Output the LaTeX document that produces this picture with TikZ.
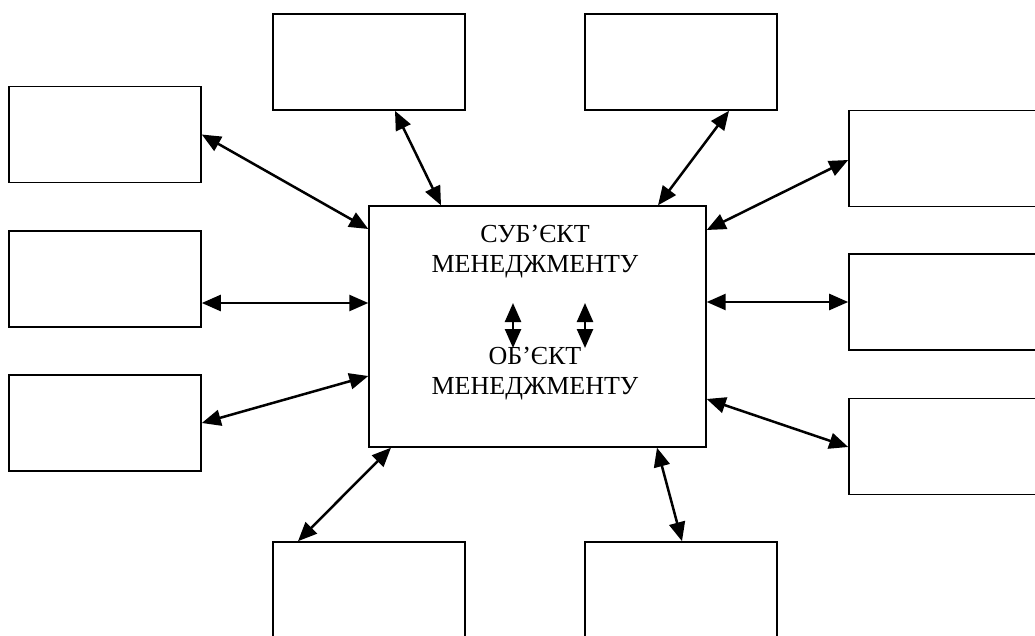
\documentclass[tikz,border=0pt]{standalone}
\usepackage{fontspec}
\setmainfont{Liberation Serif}
\usetikzlibrary{arrows.meta}
\tikzset{
  box/.style={draw, line width=1.6pt, minimum width=192pt, minimum height=96pt, inner sep=0pt, fill=none},
  mainbox/.style={draw, line width=1.4pt, minimum width=337pt, minimum height=241pt, inner sep=0pt},
  link/.style={line width=2.5pt, {Triangle[length=19pt,width=16pt]}-{Triangle[length=19pt,width=16pt]}},
  txt/.style={font=\fontsize{26}{30}\selectfont, inner sep=0pt, anchor=base}
}
\begin{document}
\begin{tikzpicture}[x=1pt,y=-1pt]
\useasboundingbox (0,0) rectangle (1035,635);
\clip (0,0) rectangle (1035,635);
% outer boxes
\node[box] (l1) at (105,134.5) {};
\node[box] (l2) at (105,279) {};
\node[box] (l3) at (105,423) {};
\node[box] (t1) at (369,62) {};
\node[box] (t2) at (681,62) {};
\node[box] (r1) at (945,158.5) {};
\node[box] (r2) at (945,302) {};
\node[box] (r3) at (945,446.5) {};
\node[box] (b1) at (369,590) {};
\node[box] (b2) at (681,590) {};
% central box
\node[mainbox] (c) at (537.5,326.5) {};
\node[txt] (s1) at (535,242) {СУБ’ЄКТ};
\node[txt] (s2) at (535,272) {МЕНЕДЖМЕНТУ};
\node[txt] (o1) at (535,364) {ОБ’ЄКТ};
\node[txt] (o2) at (535,394) {МЕНЕДЖМЕНТУ};
% connectors
\draw[link] (l1.east) -- (c.west |- 0,229);
\draw[link] (l2.east |- 0,303) -- (c.west |- 0,303);
\draw[link] (l3.east |- 0,423) -- (c.west |- 0,376);
\draw[link] (t1.south -| 395,0) -- (c.north -| 441,0);
\draw[link] (t2.south -| 729,0) -- (c.north -| 658,0);
\draw[link] (r1.west |- 0,160) -- (c.east |- 0,230);
\draw[link] (r2.west |- 0,302) -- (c.east |- 0,302);
\draw[link] (r3.west |- 0,447) -- (c.east |- 0,399);
\draw[link] (b1.north -| 298,0) -- (c.south -| 391,0);
\draw[link] (b2.north -| 682,0) -- (c.south -| 657,0);
% inner arrows
\coordinate (ia1) at (513,303);
\coordinate (ia2) at (513,348);
\coordinate (ib1) at (585,303);
\coordinate (ib2) at (585,348);
\draw[link] (ia1) -- (ia2);
\draw[link] (ib1) -- (ib2);
\end{tikzpicture}
\end{document}
